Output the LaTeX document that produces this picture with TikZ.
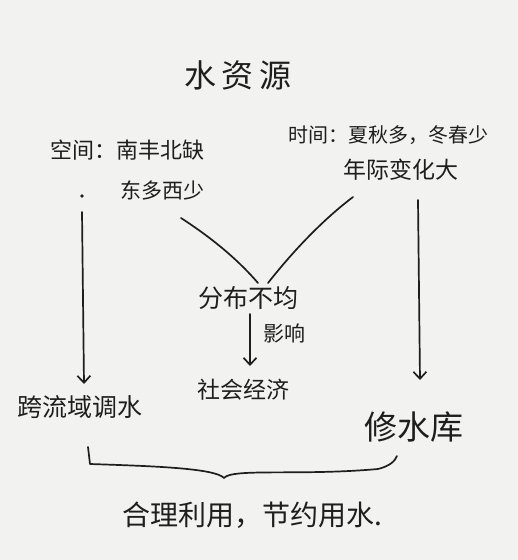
\documentclass[tikz,border=0pt]{standalone}
\usepackage{fontspec}
\newfontfamily\cjk{Noto Sans CJK SC}[Scale=1]
\usetikzlibrary{arrows.meta}
\definecolor{paper}{HTML}{F2F2F0}
\definecolor{ink}{HTML}{1E1E1E}
\tikzset{
  lbl/.style={inner sep=0pt, text=ink, font=\cjk},
  ln/.style={draw=ink, line width=1.7pt, line cap=round, line join=round},
  arr/.style={ln, -{Straight Barb[length=7pt,width=13pt,line width=1.7pt]}},
}
\begin{document}
\begin{tikzpicture}[x=1pt,y=-1pt]
\fill[paper] (0,0) rectangle (518,560);
\useasboundingbox (0,0) rectangle (518,560);

\node[lbl, font=\cjk\fontsize{32}{36}\selectfont] (title) at (238,75) {水\,资\,源};
\node[lbl, font=\cjk\fontsize{22}{26}\selectfont, anchor=west] (space) at (50,150) {空间：南丰北缺};
\node[lbl, font=\cjk\fontsize{21}{26}\selectfont, anchor=west] (ew) at (120,190) {东多西少};
\node[lbl, font=\cjk\fontsize{20}{24}\selectfont, anchor=west] (time) at (288,135) {时间：夏秋多，冬春少};
\node[lbl, font=\cjk\fontsize{23}{26}\selectfont, anchor=west] (year) at (343,170) {年际变化大};
\node[lbl, font=\cjk\fontsize{25}{28}\selectfont] (uneven) at (248,298) {分布不均};
\node[lbl, font=\cjk\fontsize{21}{24}\selectfont, anchor=west] (effect) at (263,333) {影响};
\node[lbl, font=\cjk\fontsize{23}{26}\selectfont] (econ) at (243,390) {社会经济};
\node[lbl, font=\cjk\fontsize{25}{28}\selectfont, anchor=west] (transfer) at (17,407) {跨流域调水};
\node[lbl, font=\cjk\fontsize{33}{36}\selectfont, anchor=west] (reservoir) at (364,427) {修水库};
\node[lbl, font=\cjk\fontsize{28}{32}\selectfont] (saving) at (252,515) {合理利用，节约用水.};

\coordinate (sdot) at (82,196);
\fill[ink] (sdot) circle (1.8pt);
\coordinate (lstart) at (82,212);
\coordinate (lend) at (84,384);
\draw[arr] (lstart) -- (lend);
\coordinate (rstart) at (418,200);
\coordinate (rend) at (420,380);
\draw[arr] (rstart) -- (rend);

\coordinate (vl) at (181,218);
\coordinate (vr) at (353,197);
\coordinate (vl2) at (258,283);
\coordinate (vr2) at (268,283);
\draw[ln] (vl) .. controls (215,240) and (240,262) .. (vl2);
\draw[ln] (vr) .. controls (320,222) and (290,255) .. (vr2);

\coordinate (ms) at (250,314);
\coordinate (me) at (250,366);
\draw[arr] (ms) -- (me);

\coordinate (b1) at (88,447);
\coordinate (b2) at (224,478);
\coordinate (b3) at (397,456);
\draw[ln] (b1) -- (90,464) .. controls (150,466) and (215,468) .. (b2)
  .. controls (232,468) and (300,476) .. (378,469) .. controls (390,466) and (395,461) .. (b3);
\end{tikzpicture}
\end{document}
